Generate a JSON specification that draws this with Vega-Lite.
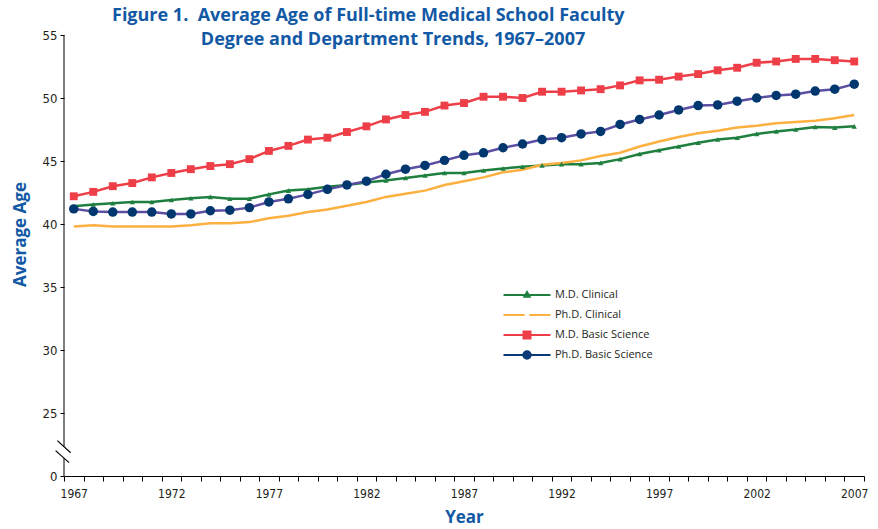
{
  "$schema": "https://vega.github.io/schema/vega-lite/v6.json",
  "width": 800,
  "height": 441,
  "autosize": {"type": "none"},
  "padding": {"left": 64, "top": 35, "right": 14, "bottom": 53},
  "background": "white",
  "config": {"view": {"stroke": null}, "font": "DejaVu Sans Condensed"},
  "title": {
    "text": ["Figure 1.\u00a0 Average Age of Full-time Medical School Faculty", "\u200b\u00a0\u00a0\u00a0\u00a0\u00a0\u00a0\u00a0\u00a0\u00a0\u00a0\u00a0\u00a0\u00a0\u00a0\u00a0\u00a0\u00a0\u00a0\u00a0Degree and Department Trends, 1967\u20132007"],
    "anchor": "start",
    "frame": "group",
    "dx": 48,
    "offset": -20,
    "font": "Open Sans",
    "fontSize": 18,
    "fontWeight": "bold",
    "color": "#1259a5",
    "lineHeight": 24
  },
  "datasets": {
    "ages": [
      {"year":1967,"series":"M.D. Clinical","age":41.4},{"year":1968,"series":"M.D. Clinical","age":41.55},{"year":1969,"series":"M.D. Clinical","age":41.65},{"year":1970,"series":"M.D. Clinical","age":41.75},{"year":1971,"series":"M.D. Clinical","age":41.75},{"year":1972,"series":"M.D. Clinical","age":41.9},{"year":1973,"series":"M.D. Clinical","age":42.05},{"year":1974,"series":"M.D. Clinical","age":42.15},{"year":1975,"series":"M.D. Clinical","age":42.0},{"year":1976,"series":"M.D. Clinical","age":42.0},{"year":1977,"series":"M.D. Clinical","age":42.35},{"year":1978,"series":"M.D. Clinical","age":42.65},{"year":1979,"series":"M.D. Clinical","age":42.75},{"year":1980,"series":"M.D. Clinical","age":42.95},{"year":1981,"series":"M.D. Clinical","age":43.1},{"year":1982,"series":"M.D. Clinical","age":43.3},{"year":1983,"series":"M.D. Clinical","age":43.45},{"year":1984,"series":"M.D. Clinical","age":43.65},{"year":1985,"series":"M.D. Clinical","age":43.85},{"year":1986,"series":"M.D. Clinical","age":44.05},{"year":1987,"series":"M.D. Clinical","age":44.05},{"year":1988,"series":"M.D. Clinical","age":44.25},{"year":1989,"series":"M.D. Clinical","age":44.4},{"year":1990,"series":"M.D. Clinical","age":44.55},{"year":1991,"series":"M.D. Clinical","age":44.65},{"year":1992,"series":"M.D. Clinical","age":44.75},{"year":1993,"series":"M.D. Clinical","age":44.75},{"year":1994,"series":"M.D. Clinical","age":44.85},{"year":1995,"series":"M.D. Clinical","age":45.15},{"year":1996,"series":"M.D. Clinical","age":45.55},{"year":1997,"series":"M.D. Clinical","age":45.85},{"year":1998,"series":"M.D. Clinical","age":46.15},{"year":1999,"series":"M.D. Clinical","age":46.45},{"year":2000,"series":"M.D. Clinical","age":46.7},{"year":2001,"series":"M.D. Clinical","age":46.85},{"year":2002,"series":"M.D. Clinical","age":47.15},{"year":2003,"series":"M.D. Clinical","age":47.35},{"year":2004,"series":"M.D. Clinical","age":47.5},{"year":2005,"series":"M.D. Clinical","age":47.7},{"year":2006,"series":"M.D. Clinical","age":47.65},{"year":2007,"series":"M.D. Clinical","age":47.75},
      {"year":1967,"series":"Ph.D. Clinical","age":39.8},{"year":1968,"series":"Ph.D. Clinical","age":39.9},{"year":1969,"series":"Ph.D. Clinical","age":39.8},{"year":1970,"series":"Ph.D. Clinical","age":39.8},{"year":1971,"series":"Ph.D. Clinical","age":39.8},{"year":1972,"series":"Ph.D. Clinical","age":39.8},{"year":1973,"series":"Ph.D. Clinical","age":39.9},{"year":1974,"series":"Ph.D. Clinical","age":40.05},{"year":1975,"series":"Ph.D. Clinical","age":40.05},{"year":1976,"series":"Ph.D. Clinical","age":40.15},{"year":1977,"series":"Ph.D. Clinical","age":40.45},{"year":1978,"series":"Ph.D. Clinical","age":40.65},{"year":1979,"series":"Ph.D. Clinical","age":40.95},{"year":1980,"series":"Ph.D. Clinical","age":41.15},{"year":1981,"series":"Ph.D. Clinical","age":41.45},{"year":1982,"series":"Ph.D. Clinical","age":41.75},{"year":1983,"series":"Ph.D. Clinical","age":42.15},{"year":1984,"series":"Ph.D. Clinical","age":42.4},{"year":1985,"series":"Ph.D. Clinical","age":42.65},{"year":1986,"series":"Ph.D. Clinical","age":43.1},{"year":1987,"series":"Ph.D. Clinical","age":43.4},{"year":1988,"series":"Ph.D. Clinical","age":43.7},{"year":1989,"series":"Ph.D. Clinical","age":44.1},{"year":1990,"series":"Ph.D. Clinical","age":44.3},{"year":1991,"series":"Ph.D. Clinical","age":44.7},{"year":1992,"series":"Ph.D. Clinical","age":44.85},{"year":1993,"series":"Ph.D. Clinical","age":45.05},{"year":1994,"series":"Ph.D. Clinical","age":45.4},{"year":1995,"series":"Ph.D. Clinical","age":45.65},{"year":1996,"series":"Ph.D. Clinical","age":46.15},{"year":1997,"series":"Ph.D. Clinical","age":46.55},{"year":1998,"series":"Ph.D. Clinical","age":46.9},{"year":1999,"series":"Ph.D. Clinical","age":47.2},{"year":2000,"series":"Ph.D. Clinical","age":47.4},{"year":2001,"series":"Ph.D. Clinical","age":47.65},{"year":2002,"series":"Ph.D. Clinical","age":47.8},{"year":2003,"series":"Ph.D. Clinical","age":48.0},{"year":2004,"series":"Ph.D. Clinical","age":48.1},{"year":2005,"series":"Ph.D. Clinical","age":48.2},{"year":2006,"series":"Ph.D. Clinical","age":48.4},{"year":2007,"series":"Ph.D. Clinical","age":48.65},
      {"year":1967,"series":"M.D. Basic Science","age":42.2},{"year":1968,"series":"M.D. Basic Science","age":42.55},{"year":1969,"series":"M.D. Basic Science","age":43.0},{"year":1970,"series":"M.D. Basic Science","age":43.25},{"year":1971,"series":"M.D. Basic Science","age":43.7},{"year":1972,"series":"M.D. Basic Science","age":44.05},{"year":1973,"series":"M.D. Basic Science","age":44.35},{"year":1974,"series":"M.D. Basic Science","age":44.6},{"year":1975,"series":"M.D. Basic Science","age":44.75},{"year":1976,"series":"M.D. Basic Science","age":45.15},{"year":1977,"series":"M.D. Basic Science","age":45.8},{"year":1978,"series":"M.D. Basic Science","age":46.2},{"year":1979,"series":"M.D. Basic Science","age":46.7},{"year":1980,"series":"M.D. Basic Science","age":46.85},{"year":1981,"series":"M.D. Basic Science","age":47.3},{"year":1982,"series":"M.D. Basic Science","age":47.75},{"year":1983,"series":"M.D. Basic Science","age":48.3},{"year":1984,"series":"M.D. Basic Science","age":48.65},{"year":1985,"series":"M.D. Basic Science","age":48.9},{"year":1986,"series":"M.D. Basic Science","age":49.4},{"year":1987,"series":"M.D. Basic Science","age":49.6},{"year":1988,"series":"M.D. Basic Science","age":50.1},{"year":1989,"series":"M.D. Basic Science","age":50.1},{"year":1990,"series":"M.D. Basic Science","age":50.0},{"year":1991,"series":"M.D. Basic Science","age":50.5},{"year":1992,"series":"M.D. Basic Science","age":50.5},{"year":1993,"series":"M.D. Basic Science","age":50.6},{"year":1994,"series":"M.D. Basic Science","age":50.7},{"year":1995,"series":"M.D. Basic Science","age":51.0},{"year":1996,"series":"M.D. Basic Science","age":51.4},{"year":1997,"series":"M.D. Basic Science","age":51.45},{"year":1998,"series":"M.D. Basic Science","age":51.7},{"year":1999,"series":"M.D. Basic Science","age":51.9},{"year":2000,"series":"M.D. Basic Science","age":52.2},{"year":2001,"series":"M.D. Basic Science","age":52.4},{"year":2002,"series":"M.D. Basic Science","age":52.8},{"year":2003,"series":"M.D. Basic Science","age":52.9},{"year":2004,"series":"M.D. Basic Science","age":53.1},{"year":2005,"series":"M.D. Basic Science","age":53.1},{"year":2006,"series":"M.D. Basic Science","age":53.0},{"year":2007,"series":"M.D. Basic Science","age":52.9},
      {"year":1967,"series":"Ph.D. Basic Science","age":41.2},{"year":1968,"series":"Ph.D. Basic Science","age":41.0},{"year":1969,"series":"Ph.D. Basic Science","age":40.95},{"year":1970,"series":"Ph.D. Basic Science","age":40.95},{"year":1971,"series":"Ph.D. Basic Science","age":40.95},{"year":1972,"series":"Ph.D. Basic Science","age":40.8},{"year":1973,"series":"Ph.D. Basic Science","age":40.8},{"year":1974,"series":"Ph.D. Basic Science","age":41.05},{"year":1975,"series":"Ph.D. Basic Science","age":41.1},{"year":1976,"series":"Ph.D. Basic Science","age":41.3},{"year":1977,"series":"Ph.D. Basic Science","age":41.75},{"year":1978,"series":"Ph.D. Basic Science","age":42.0},{"year":1979,"series":"Ph.D. Basic Science","age":42.35},{"year":1980,"series":"Ph.D. Basic Science","age":42.75},{"year":1981,"series":"Ph.D. Basic Science","age":43.1},{"year":1982,"series":"Ph.D. Basic Science","age":43.4},{"year":1983,"series":"Ph.D. Basic Science","age":43.95},{"year":1984,"series":"Ph.D. Basic Science","age":44.35},{"year":1985,"series":"Ph.D. Basic Science","age":44.65},{"year":1986,"series":"Ph.D. Basic Science","age":45.05},{"year":1987,"series":"Ph.D. Basic Science","age":45.45},{"year":1988,"series":"Ph.D. Basic Science","age":45.65},{"year":1989,"series":"Ph.D. Basic Science","age":46.05},{"year":1990,"series":"Ph.D. Basic Science","age":46.35},{"year":1991,"series":"Ph.D. Basic Science","age":46.7},{"year":1992,"series":"Ph.D. Basic Science","age":46.85},{"year":1993,"series":"Ph.D. Basic Science","age":47.15},{"year":1994,"series":"Ph.D. Basic Science","age":47.35},{"year":1995,"series":"Ph.D. Basic Science","age":47.9},{"year":1996,"series":"Ph.D. Basic Science","age":48.3},{"year":1997,"series":"Ph.D. Basic Science","age":48.65},{"year":1998,"series":"Ph.D. Basic Science","age":49.05},{"year":1999,"series":"Ph.D. Basic Science","age":49.4},{"year":2000,"series":"Ph.D. Basic Science","age":49.45},{"year":2001,"series":"Ph.D. Basic Science","age":49.75},{"year":2002,"series":"Ph.D. Basic Science","age":50.0},{"year":2003,"series":"Ph.D. Basic Science","age":50.2},{"year":2004,"series":"Ph.D. Basic Science","age":50.3},{"year":2005,"series":"Ph.D. Basic Science","age":50.55},{"year":2006,"series":"Ph.D. Basic Science","age":50.7},{"year":2007,"series":"Ph.D. Basic Science","age":51.1}
    ],
    "axisline": [
      {"year": 1966.5, "age": 55, "age2": 22.33},
      {"year": 1966.5, "age": 21.42, "age2": 20}
    ],
    "breaks": [
      {"year": 1966.16, "year2": 1966.84, "age": 22.81, "age2": 21.85},
      {"year": 1966.07, "year2": 1966.76, "age": 22.01, "age2": 21.06}
    ]
  },
  "layer": [
    {
      "data": {"name": "ages"},
      "mark": {"type": "line", "strokeWidth": 2.5},
      "encoding": {
        "x": {
          "field": "year", "type": "quantitative", "title": "Year",
          "scale": {"domain": [1966.5, 2007.5], "nice": false, "zero": false},
          "axis": {
            "values": [1966.5,1967.5,1968.5,1969.5,1970.5,1971.5,1972.5,1973.5,1974.5,1975.5,1976.5,1977.5,1978.5,1979.5,1980.5,1981.5,1982.5,1983.5,1984.5,1985.5,1986.5,1987.5,1988.5,1989.5,1990.5,1991.5,1992.5,1993.5,1994.5,1995.5,1996.5,1997.5,1998.5,1999.5,2000.5,2001.5,2002.5,2003.5,2004.5,2005.5,2006.5,2007.5],
            "tickCount": 100,
            "labelExpr": "((datum.value + 0.5 - 1967) % 5 === 0 && datum.value < 2007) ? ('' + (datum.value + 0.5)) : ''",
            "labelOffset": 9.75,
            "labelOverlap": false,
            "labelFlush": false,
            "labelBound": false,
            "grid": false,
            "domainColor": "#000000",
            "tickColor": "#000000",
            "tickSize": 5,
            "labelPadding": 7,
            "labelFont": "DejaVu Sans Condensed",
            "labelFontSize": 12,
            "labelColor": "#231f20",
            "titleFont": "Open Sans",
            "titleFontSize": 17,
            "titleFontWeight": "bold",
            "titleColor": "#1259a5",
            "titlePadding": 10
          }
        },
        "y": {
          "field": "age", "type": "quantitative", "title": "Average Age",
          "scale": {"domain": [20, 55], "nice": false, "zero": false},
          "axis": {
            "values": [20, 25, 30, 35, 40, 45, 50, 55],
            "labelExpr": "datum.value === 20 ? '0' : datum.label",
            "domain": false,
            "grid": false,
            "tickColor": "#000000",
            "tickSize": 4,
            "labelPadding": 3,
            "labelFont": "DejaVu Sans Condensed",
            "labelFontSize": 13,
            "labelColor": "#231f20",
            "titleFont": "Open Sans",
            "titleFontSize": 17,
            "titleFontWeight": "bold",
            "titleColor": "#1259a5",
            "titlePadding": 13,
            "titleY": 199
          }
        },
        "stroke": {
          "condition": {"test": "datum.series === 'Ph.D. Basic Science'", "value": "#5b4fa3"},
          "field": "series", "type": "nominal",
          "scale": {
            "domain": ["M.D. Clinical", "Ph.D. Clinical", "M.D. Basic Science", "Ph.D. Basic Science"],
            "range": ["#1f7f3f", "#fbb040", "#ee3e48", "#0b3a78"]
          },
          "legend": {
            "orient": "none",
            "legendX": 457,
            "legendY": 254,
            "title": null,
            "symbolSize": 100,
            "symbolStrokeWidth": 2,
            "labelFont": "Open Sans",
            "labelFontSize": 11,
            "labelColor": "#231f20",
            "labelOffset": 22,
            "rowPadding": 0,
            "encode": {
              "symbols": {
                "update": {
                  "shape": {"signal": "datum.value === 'M.D. Clinical' ? 'M0,-1.2M0,1.2M-4.7,0H4.7M0,-0.6L0.52,0.33L-0.52,0.33Z' : datum.value === 'Ph.D. Clinical' ? 'M0,-1.2M0,1.2M-4.7,0H-0.47M0.47,0H4.7' : datum.value === 'M.D. Basic Science' ? 'M0,-1.2M0,1.2M-4.7,0H4.7M-0.7,-0.7H0.7V0.7H-0.7Z' : 'M0,-1.2M0,1.2M-4.7,0H4.7M0.75,0A0.75,0.75,0,1,1,-0.75,0A0.75,0.75,0,1,1,0.75,0Z'"},
                  "fill": {"signal": "datum.value === 'M.D. Clinical' ? '#1f7f3f' : datum.value === 'Ph.D. Clinical' ? '#fbb040' : datum.value === 'M.D. Basic Science' ? '#ee3e48' : '#0b3a78'"}
                }
              }
            }
          }
        }
      }
    },
    {
      "data": {"name": "ages"},
      "transform": [{"filter": "datum.series === 'M.D. Clinical'"}],
      "mark": {"type": "point", "shape": "triangle-up", "filled": true, "size": 28, "color": "#1f7f3f", "opacity": 1},
      "encoding": {
        "x": {"field": "year", "type": "quantitative", "title": "Year"},
        "y": {"field": "age", "type": "quantitative", "title": "Average Age"}
      }
    },
    {
      "data": {"name": "ages"},
      "transform": [{"filter": "datum.series === 'M.D. Basic Science'"}],
      "mark": {"type": "square", "size": 62, "color": "#ee3e48", "opacity": 1},
      "encoding": {
        "x": {"field": "year", "type": "quantitative", "title": "Year"},
        "y": {"field": "age", "type": "quantitative", "title": "Average Age"}
      }
    },
    {
      "data": {"name": "ages"},
      "transform": [{"filter": "datum.series === 'Ph.D. Basic Science'"}],
      "mark": {"type": "circle", "size": 90, "color": "#00376f", "opacity": 1},
      "encoding": {
        "x": {"field": "year", "type": "quantitative", "title": "Year"},
        "y": {"field": "age", "type": "quantitative", "title": "Average Age"}
      }
    },
    {
      "data": {"name": "axisline"},
      "mark": {"type": "rule", "color": "#000000", "strokeWidth": 1},
      "encoding": {
        "x": {"field": "year", "type": "quantitative", "title": "Year"},
        "y": {"field": "age", "type": "quantitative", "title": "Average Age"},
        "y2": {"field": "age2"}
      }
    },
    {
      "data": {"name": "breaks"},
      "mark": {"type": "rule", "color": "#000000", "strokeWidth": 1.2},
      "encoding": {
        "x": {"field": "year", "type": "quantitative", "title": "Year"},
        "x2": {"field": "year2"},
        "y": {"field": "age", "type": "quantitative", "title": "Average Age"},
        "y2": {"field": "age2"}
      }
    }
  ]
}
